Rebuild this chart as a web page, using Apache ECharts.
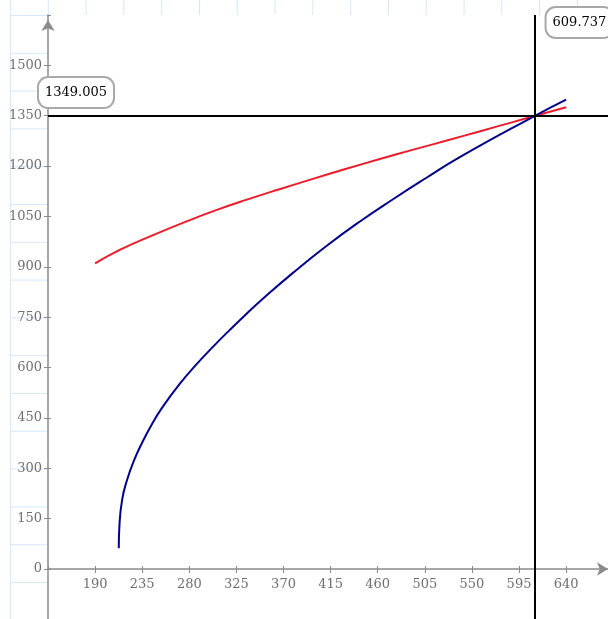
<!DOCTYPE html>
<html>
<head>
<meta charset="utf-8">
<script src="https://cdn.jsdelivr.net/npm/echarts@6/dist/echarts.min.js"></script>
<style>
html,body{margin:0;padding:0;background:#fff;}
#wrap{position:relative;width:608px;height:619px;overflow:hidden;background:#fff;}
#paper{position:absolute;left:10px;top:0;right:0;bottom:0;
  background-image:linear-gradient(to right,#d6e7fb 1px,transparent 1px),linear-gradient(to bottom,#d6e7fb 1px,transparent 1px);
  background-size:37.8px 37.8px;background-position:0px 15px;}
#plotbg{position:absolute;left:48px;top:15px;right:0;bottom:0;background:#fff;}
#chart{position:absolute;left:0;top:0;width:608px;height:619px;}
</style>
</head>
<body>
<div id="wrap"><div id="paper"></div><div id="plotbg"></div><div id="chart"></div></div>
<script>
// Red curve
const redX = [190, 214, 246, 278, 305, 335, 367, 398, 430, 462, 494, 526, 558, 589, 609.737, 640];
const redY = [910, 951, 995, 1036, 1068, 1100, 1132, 1162, 1192, 1221, 1249, 1276, 1304, 1331, 1349.005, 1375];
// Blue curve
const blueX = [212.6, 213.2, 215.8, 220.6, 226.9, 234.9, 244.4, 253.9, 271, 287, 303, 319, 335, 350, 379, 411, 443, 475, 507, 538, 609.737, 640];
const blueY = [62, 127, 206, 266, 321, 376, 432, 480, 552, 610, 663, 713, 761, 804, 882, 962, 1035, 1102, 1166, 1226, 1349.005, 1398];
// Marker (crossing) values
const markerX = 609.737;
const markerY = 1349.005;
// Axes
const xMin = 145, xMax = 680, xInterval = 45;
const yMin = 0, yMax = 1650, yInterval = 150;
const yBelow = -150;

const pairs = (xs, ys) => xs.map((x, i) => [x, ys[i]]);
const labelFont = 'DejaVu Serif';
const tickColor = '#6f6f6f';
const axisColor = '#8a8a8a';
const plain = v => String(v);

const boxLabel = {
  show: true,
  color: '#000',
  fontFamily: labelFont,
  fontSize: 13,
  backgroundColor: '#fff',
  borderColor: '#a8a8a8',
  borderWidth: 2,
  borderRadius: 9,
  padding: [8, 6, 8, 6]
};
const markLineBase = {
  silent: true, symbol: ['none', 'none'], animation: false,
  lineStyle: {color: '#000', width: 2, type: 'solid'},
  emphasis: {disabled: true}
};

const chart = echarts.init(document.getElementById('chart'), null, {renderer: 'canvas'});
chart.setOption({
  animation: false,
  backgroundColor: 'transparent',
  grid: [
    {left: 48, right: 0, top: 15, bottom: 50, show: false, containLabel: false, outerBoundsMode: 'none'},
    {left: 48, right: 0, top: 569, bottom: 0, show: false, containLabel: false, outerBoundsMode: 'none'}
  ],
  xAxis: [
    {
      type: 'value', gridIndex: 0, position: 'bottom', min: xMin, max: xMax, interval: xInterval,
      axisLine: {show: true, onZero: false, lineStyle: {color: axisColor, width: 1.5},
        symbol: ['none', 'arrow'], symbolSize: [10, 11]},
      axisTick: {show: true, length: 4, lineStyle: {color: axisColor, width: 1}},
      axisLabel: {show: true, margin: 9, color: tickColor, fontFamily: labelFont, fontSize: 13,
        showMinLabel: false, showMaxLabel: false, formatter: plain},
      splitLine: {show: false}
    },
    {
      type: 'value', gridIndex: 0, position: 'bottom', min: xMin, max: xMax, interval: xInterval,
      axisLine: {show: false, onZero: false},
      axisTick: {show: true, inside: true, length: 3, lineStyle: {color: axisColor, width: 1}},
      axisLabel: {show: false},
      splitLine: {show: false}
    },
    {
      type: 'value', gridIndex: 1, show: false, min: xMin, max: xMax, interval: xInterval
    }
  ],
  yAxis: [
    {
      type: 'value', gridIndex: 0, position: 'left', min: yMin, max: yMax, interval: yInterval,
      axisLine: {show: true, onZero: false, lineStyle: {color: axisColor, width: 1.5},
        symbol: ['none', 'arrow'], symbolSize: [10, 11], symbolOffset: [0, -5]},
      axisTick: {show: true, length: 4, lineStyle: {color: axisColor, width: 1}},
      axisLabel: {show: true, margin: 6, color: tickColor, fontFamily: labelFont, fontSize: 13,
        showMinLabel: true, showMaxLabel: false, formatter: plain},
      splitLine: {show: false}
    },
    {
      type: 'value', gridIndex: 0, position: 'left', min: yMin, max: yMax, interval: yInterval,
      axisLine: {show: false, onZero: false},
      axisTick: {show: true, inside: true, length: 3, lineStyle: {color: axisColor, width: 1}},
      axisLabel: {show: false},
      splitLine: {show: false}
    },
    {
      type: 'value', gridIndex: 1, position: 'left', min: yBelow, max: 0, interval: yInterval,
      axisLine: {show: true, onZero: false, lineStyle: {color: axisColor, width: 1.5}},
      axisTick: {show: false},
      axisLabel: {show: false},
      splitLine: {show: false}
    }
  ],
  series: [
    {
      type: 'line', xAxisIndex: 0, yAxisIndex: 0, data: [], z: 1, silent: true,
      markLine: Object.assign({}, markLineBase, {
        data: [
          {xAxis: markerX, label: Object.assign({}, boxLabel, {position: 'end', formatter: String(markerX), offset: [45, 27]})},
          {yAxis: markerY, label: Object.assign({}, boxLabel, {position: 'insideStartTop', formatter: String(markerY), offset: [-14, -4]})}
        ]
      })
    },
    {
      type: 'line', xAxisIndex: 2, yAxisIndex: 2, data: [], z: 1, silent: true,
      markLine: Object.assign({}, markLineBase, {
        label: {show: false},
        data: [{xAxis: markerX}]
      })
    },
    {
      type: 'line', xAxisIndex: 0, yAxisIndex: 0, data: pairs(redX, redY), z: 3, showSymbol: false, smooth: 0.5,
      lineStyle: {color: '#ec1c2a', width: 2}, itemStyle: {color: '#ec1c2a'}, silent: true
    },
    {
      type: 'line', xAxisIndex: 0, yAxisIndex: 0, data: pairs(blueX, blueY), z: 3, showSymbol: false, smooth: 0.5,
      lineStyle: {color: '#00008b', width: 2}, itemStyle: {color: '#00008b'}, silent: true
    }
  ]
});
</script>
</body>
</html>
